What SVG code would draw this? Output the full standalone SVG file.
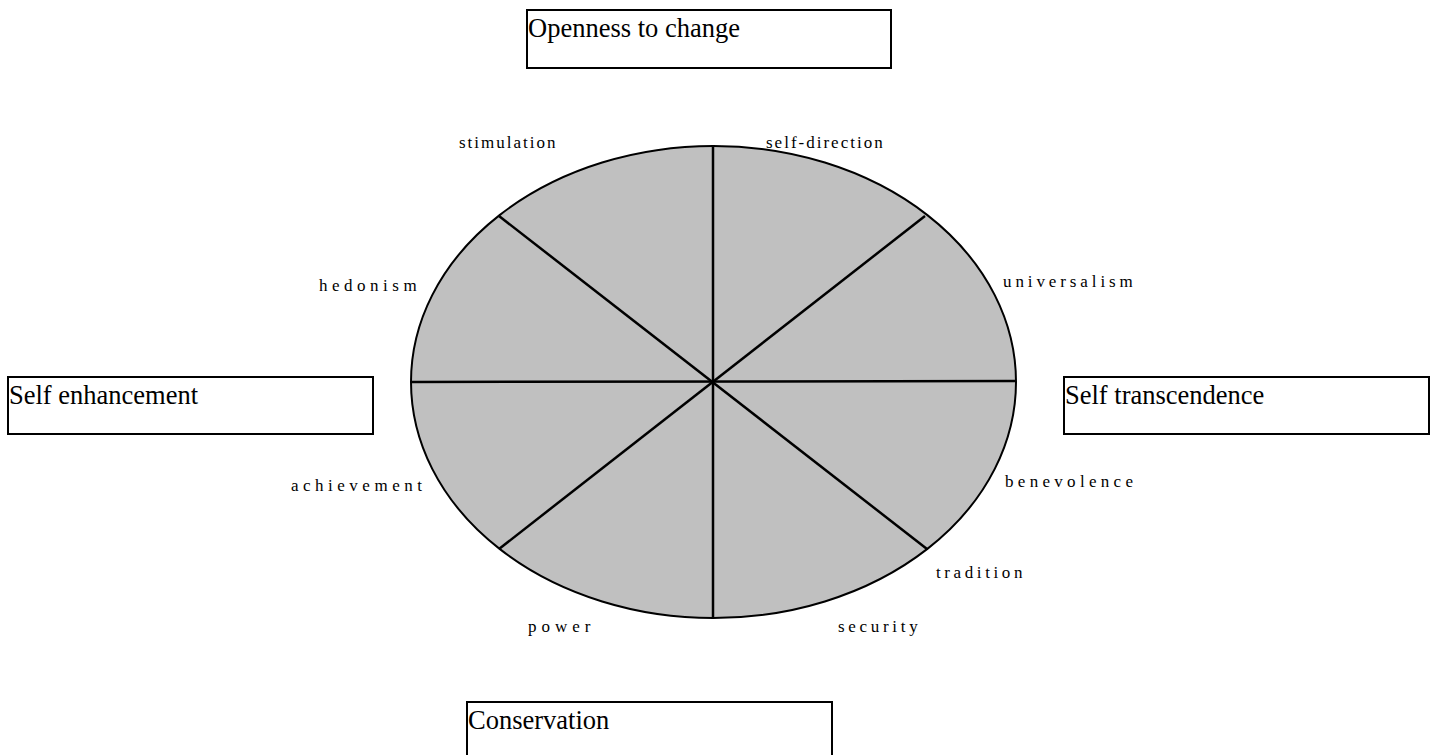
<svg xmlns="http://www.w3.org/2000/svg" width="1436" height="755" viewBox="0 0 1436 755">
<style>
.box{fill:#fff;stroke:#000;stroke-width:2}
.title{font-family:"Liberation Serif","Times New Roman",serif;font-size:26.5px;fill:#000}
.lbl{font-family:"Liberation Serif","Times New Roman",serif;font-size:17px;fill:#000}
.spoke{stroke:#000;stroke-width:2.5;fill:none}
</style>
<rect width="1436" height="755" fill="#fff"/>
<g id="wheel">
<ellipse cx="713.5" cy="382" rx="302.5" ry="236" fill="#c0c0c0" stroke="#000" stroke-width="2"/>
</g>
<g id="connectors">
<line class="spoke" x1="713" y1="146" x2="713" y2="618"/>
<line class="spoke" x1="411" y1="382" x2="1016" y2="381"/>
<line class="spoke" x1="499" y1="216" x2="927" y2="549"/>
<line class="spoke" x1="925" y1="216" x2="499" y2="549"/>
</g>
<g id="openness"><rect class="box" x="527" y="10" width="364" height="58"/><text class="title" x="528" y="37">Openness to change</text></g>
<g id="self-enhancement"><rect class="box" x="8" y="377" width="365" height="57"/><text class="title" x="9" y="404">Self enhancement</text></g>
<g id="self-transcendence"><rect class="box" x="1064" y="377" width="365" height="57"/><text class="title" x="1065" y="404">Self transcendence</text></g>
<g id="conservation"><rect class="box" x="467" y="702" width="365" height="60"/><text class="title" x="468" y="729">Conservation</text></g>
<g id="stimulation"><text class="lbl" x="459" y="148" letter-spacing="2">stimulation</text></g>
<g id="self-direction"><text class="lbl" x="766" y="148" letter-spacing="2">self-direction</text></g>
<g id="hedonism"><text class="lbl" x="319" y="291" letter-spacing="4.5">hedonism</text></g>
<g id="universalism"><text class="lbl" x="1003" y="287" letter-spacing="3.9">universalism</text></g>
<g id="achievement"><text class="lbl" x="291" y="491" letter-spacing="4.5">achievement</text></g>
<g id="benevolence"><text class="lbl" x="1005" y="487" letter-spacing="4.3">benevolence</text></g>
<g id="tradition"><text class="lbl" x="936" y="578" letter-spacing="3.6">tradition</text></g>
<g id="power"><text class="lbl" x="528" y="632" letter-spacing="5">power</text></g>
<g id="security"><text class="lbl" x="838" y="632" letter-spacing="3.7">security</text></g>
</svg>
